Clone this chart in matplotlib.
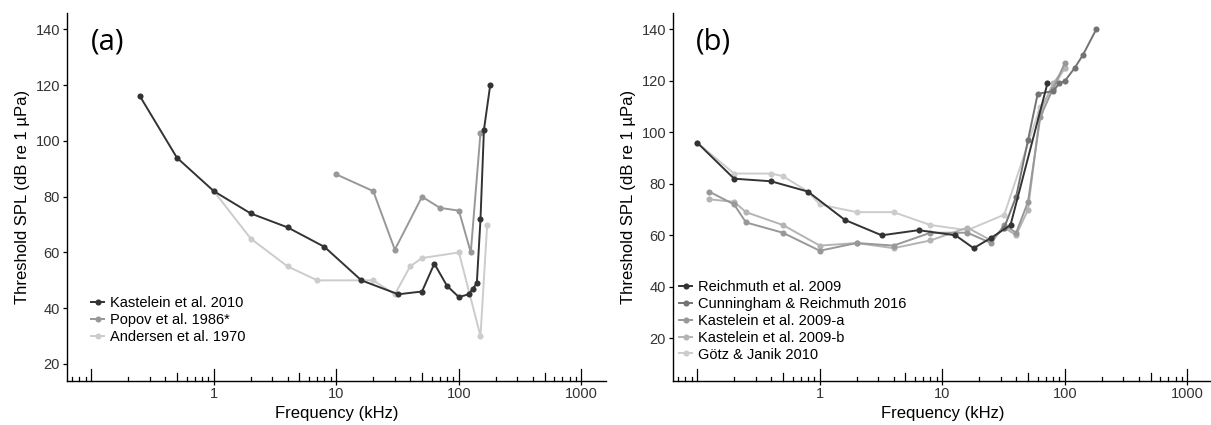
import numpy as np
import matplotlib.pyplot as plt
from matplotlib.transforms import blended_transform_factory

plt.rcParams['font.family'] = ['Liberation Sans', 'DejaVu Sans']

# ---- panel (a): harbour porpoise audiograms ----
kast2010_f = [0.25, 0.5, 1, 2, 4, 8, 16, 32, 50, 63, 80, 100, 120, 130, 140, 150, 160, 180]
kast2010_db = [116, 94, 82, 74, 69, 62, 50, 45, 46, 56, 48, 44, 45, 47, 49, 72, 104, 120]
popov_f = [10, 20, 30, 50, 70, 100, 125, 150]
popov_db = [88, 82, 61, 80, 76, 75, 60, 103]
andersen_f = [1, 2, 4, 7, 20, 30, 40, 50, 100, 150, 170]
andersen_db = [82, 65, 55, 50, 50, 45, 55, 58, 60, 30, 70]

# ---- panel (b) ----
reich_f = [0.1, 0.2, 0.4, 0.8, 1.6, 3.2, 6.4, 12.8, 18, 25, 36, 72]
reich_db = [96, 82, 81, 77, 66, 60, 62, 60, 55, 59, 64, 119]
cunn_f = [32, 40, 50, 60, 80, 90, 100, 120, 140, 180]
cunn_db = [63, 75, 97, 115, 116, 119, 120, 125, 130, 140]
kasta_f = [0.125, 0.2, 0.25, 0.5, 1, 2, 4, 8, 16, 25, 32, 40, 50, 63, 80, 100]
kasta_db = [77, 72, 65, 61, 54, 57, 56, 61, 61, 57, 64, 61, 73, 106, 117, 127]
kastb_f = [0.125, 0.2, 0.25, 0.5, 1, 2, 4, 8, 16, 25, 32, 40, 50, 63, 80, 100]
kastb_db = [74, 73, 69, 64, 56, 57, 55, 58, 63, 58, 63, 60, 70, 108, 119, 125]
gotz_f = [0.1, 0.2, 0.4, 0.5, 0.8, 1, 2, 4, 8, 16, 32, 63, 80, 100]
gotz_db = [96, 84, 84, 83, 77, 72, 69, 69, 64, 62, 68, 110, 117, 125]

xticks = [1, 10, 100, 1000]
yticks = [20, 40, 60, 80, 100, 120, 140]

fig = plt.figure(figsize=(12.11, 4.25), dpi=100)
ax_a = fig.add_axes([0.0551, 0.1042, 0.4453, 0.8659])
ax_b = fig.add_axes([0.5555, 0.1042, 0.4453, 0.8659])


def style_axis(ax, ylim, panel):
    ax.set_xscale('log')
    ax.set_xlim(10 ** -1.2, 10 ** 3.2)
    ax.set_ylim(*ylim)
    ax.set_xticks(xticks)
    ax.set_xticklabels([str(t) for t in xticks])
    ax.xaxis.set_minor_locator(plt.NullLocator())
    ax.set_yticks(yticks)
    for s in ['top', 'right']:
        ax.spines[s].set_visible(False)
    for s in ['left', 'bottom']:
        ax.spines[s].set_linewidth(1.0)
    ax.tick_params(direction='out', length=2.8, width=0.9, labelsize=10.5,
                   labelcolor='#333333', pad=2)
    ax.set_xlabel('Frequency (kHz)', fontsize=12, labelpad=3)
    ax.set_ylabel('Threshold SPL (dB re 1 µPa)', fontsize=12, labelpad=4)
    # log ticks drawn inside, like annotation_logticks
    tr = blended_transform_factory(ax.transData, ax.transAxes)
    h = 368.0
    for k in range(-2, 4):
        for m in range(1, 10):
            x = m * 10.0 ** k
            if not (10 ** -1.2 <= x <= 10 ** 3.2):
                continue
            ln = 11.8 if m == 1 else (7.9 if m == 5 else 3.9)
            ax.plot([x, x], [0, ln / h], color='black', lw=0.9,
                    transform=tr, clip_on=False, zorder=1)
    ax.text(0.075, 0.92, panel, transform=ax.transAxes, fontsize=21,
            family=['Open Sans', 'DejaVu Sans'], ha='center', va='center')


def series(ax, f, db, color, label):
    ax.plot(f, db, color=color, lw=1.4, marker='o', markersize=4.4,
            markeredgewidth=0, label=label, zorder=3)


series(ax_a, andersen_f, andersen_db, '#CCCCCC', 'Andersen et al. 1970')
series(ax_a, popov_f, popov_db, '#989898', 'Popov et al. 1986*')
series(ax_a, kast2010_f, kast2010_db, '#333333', 'Kastelein et al. 2010')
style_axis(ax_a, (14, 146), '(a)')
h, l = ax_a.get_legend_handles_labels()
ax_a.legend(h[::-1], l[::-1], loc='center left', bbox_to_anchor=(0.045, 0.165),
            frameon=False, fontsize=10.5, handlelength=0.9, handletextpad=0.4,
            labelspacing=0.2, borderpad=0, borderaxespad=0)

series(ax_b, gotz_f, gotz_db, '#CCCCCC', 'Götz & Janik 2010')
series(ax_b, kastb_f, kastb_db, '#B4B4B4', 'Kastelein et al. 2009-b')
series(ax_b, kasta_f, kasta_db, '#989898', 'Kastelein et al. 2009-a')
series(ax_b, cunn_f, cunn_db, '#737373', 'Cunningham & Reichmuth 2016')
series(ax_b, reich_f, reich_db, '#333333', 'Reichmuth et al. 2009')
style_axis(ax_b, (3.5, 146.5), '(b)')
h, l = ax_b.get_legend_handles_labels()
ax_b.legend(h[::-1], l[::-1], loc='center left', bbox_to_anchor=(0.012, 0.163),
            frameon=False, fontsize=10.5, handlelength=0.9, handletextpad=0.4,
            labelspacing=0.2, borderpad=0, borderaxespad=0)

fig.savefig('out.png', dpi=100)
